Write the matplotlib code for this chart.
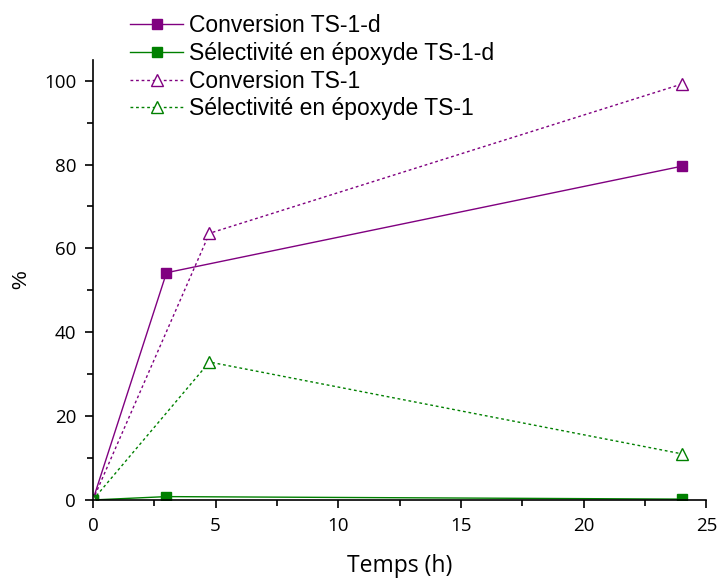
import matplotlib.pyplot as plt
from matplotlib.ticker import MultipleLocator

# Données
temps_d = [0, 3, 24]
conv_d = [0, 54.2, 79.6]
sel_d = [0, 0.8, 0.2]

temps = [0, 4.75, 24]
conv = [0, 63.6, 99.2]
sel = [0, 32.9, 11.0]

violet = '#800080'
vert = '#008000'

plt.rcParams['font.family'] = ['Liberation Sans', 'DejaVu Sans']

fig = plt.figure(figsize=(7.2, 5.8), dpi=100)
ax = fig.add_axes([0.129, 0.138, 0.852, 0.759])

ax.plot(temps_d, conv_d, '-', color=violet, lw=1, marker='s', markersize=7,
        markerfacecolor=violet, markeredgecolor=violet, label='Conversion TS-1-d')
ax.plot(temps_d, sel_d, '-', color=vert, lw=1, marker='s', markersize=7,
        markerfacecolor=vert, markeredgecolor=vert, label='Sélectivité en époxyde TS-1-d')
ax.plot(temps, conv, color=violet, lw=1, linestyle=(0, (2, 2)), marker='^', markersize=9,
        markerfacecolor='white', markeredgecolor=violet, label='Conversion TS-1')
ax.plot(temps, sel, color=vert, lw=1, linestyle=(0, (2, 2)), marker='^', markersize=9,
        markerfacecolor='white', markeredgecolor=vert, label='Sélectivité en époxyde TS-1')

ax.set_xlim(0, 25)
ax.set_ylim(0, 105)
ax.xaxis.set_major_locator(MultipleLocator(5))
ax.xaxis.set_minor_locator(MultipleLocator(2.5))
ax.yaxis.set_major_locator(MultipleLocator(20))
ax.yaxis.set_minor_locator(MultipleLocator(10))
ax.spines['top'].set_visible(False)
ax.spines['right'].set_visible(False)
ax.spines['left'].set_linewidth(1.2)
ax.spines['bottom'].set_linewidth(1.2)
ax.tick_params(which='major', direction='out', length=6, width=1.2, labelsize=13.5, pad=6)
ax.tick_params(which='minor', direction='out', length=4, width=1.2)
for lab in ax.get_xticklabels() + ax.get_yticklabels():
    lab.set_family(['Open Sans', 'DejaVu Sans'])

ax.set_xlabel('Temps (h)', fontsize=16.5, family=['Open Sans', 'DejaVu Sans'], labelpad=14)
ax.set_ylabel('%', fontsize=15, labelpad=10)

leg = fig.legend(loc='upper left', bbox_to_anchor=(0.165, 0.995), frameon=False,
                 fontsize=16.5, handlelength=2.3, handletextpad=0.25, labelspacing=0.2,
                 borderaxespad=0.1)

fig.savefig('out.png', dpi=100)
